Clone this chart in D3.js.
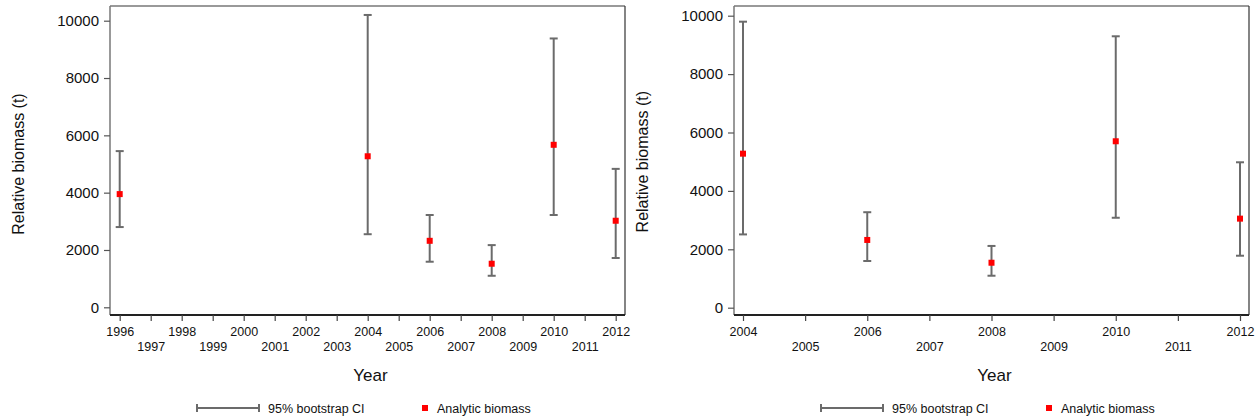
<!DOCTYPE html>
<html>
<head>
<meta charset="utf-8">
<script src="https://cdn.jsdelivr.net/npm/d3@7"></script>
<style>
  body { margin: 0; background: #fff; }
  svg { font-family: "Liberation Sans", Arial, sans-serif; }
</style>
</head>
<body>
<div id="chart"></div>
<script>
// left panel: full time series
const yearsA = [1996, 2004, 2006, 2008, 2010, 2012];
const meanA = [3950, 5270, 2320, 1520, 5670, 3020];
const lowA = [2800, 2550, 1590, 1100, 3220, 1720];
const highA = [5450, 10200, 3220, 2170, 9380, 4830];

// right panel: 2004 onwards
const yearsB = [2004, 2006, 2008, 2010, 2012];
const meanB = [5275, 2320, 1540, 5700, 3050];
const lowB = [2510, 1600, 1095, 3080, 1780];
const highB = [9795, 3270, 2115, 9295, 4980];

const yTicks = [0, 2000, 4000, 6000, 8000, 10000];

const width = 1259, height = 420;
const barCol = "#6b6b6b";

const svg = d3
  .select("#chart")
  .append("svg")
  .attr("width", width)
  .attr("height", height);

function panel(opts) {
  const { years, mean, low, high, yrFrom, yrTo, frame, xr, yr, labelX, legendX } = opts;
  const g = svg.append("g");

  const x = d3.scaleLinear().domain([yrFrom, yrTo]).range(xr);
  const y = d3.scaleLinear().domain([0, 10000]).range(yr);

  const data = years.map((yr, i) => ({ year: yr, mean: mean[i], low: low[i], high: high[i] }));

  // frame
  g.append("line")
    .attr("x1", frame.l).attr("x2", frame.r).attr("y1", frame.t).attr("y2", frame.t)
    .attr("stroke", "#777").attr("stroke-width", 1.5);
  g.append("line")
    .attr("x1", frame.l).attr("x2", frame.l).attr("y1", frame.t).attr("y2", frame.b)
    .attr("stroke", "#777").attr("stroke-width", 1.5);
  g.append("line")
    .attr("x1", frame.r).attr("x2", frame.r).attr("y1", frame.t).attr("y2", frame.b)
    .attr("stroke", "#333").attr("stroke-width", 1.2);
  g.append("line")
    .attr("x1", frame.l).attr("x2", frame.r).attr("y1", frame.b).attr("y2", frame.b)
    .attr("stroke", "#222").attr("stroke-width", 1.8);

  // y axis
  const yAxis = g.append("g")
    .attr("transform", `translate(${frame.l},0)`)
    .call(d3.axisLeft(y).tickValues(yTicks).tickSize(6).tickPadding(5).tickFormat(d3.format("d")));
  yAxis.select(".domain").remove();
  yAxis.selectAll("line").attr("stroke", "#555").attr("stroke-width", 1.2);
  yAxis.selectAll("text").attr("font-size", "15px").attr("fill", "#111")
    .attr("font-family", "Liberation Sans, Arial, sans-serif");

  // x axis, labels staggered on two rows
  const xYears = d3.range(yrFrom, yrTo + 1);
  const xAxis = g.append("g")
    .attr("transform", `translate(0,${frame.b})`)
    .call(d3.axisBottom(x).tickValues(xYears).tickSize(6).tickFormat(d3.format("d")));
  xAxis.select(".domain").remove();
  xAxis.selectAll("line").attr("stroke", "#444").attr("stroke-width", 1.2);
  xAxis.selectAll("text")
    .attr("font-size", "12.5px").attr("fill", "#111")
    .attr("font-family", "Liberation Sans, Arial, sans-serif")
    .attr("y", (d) => ((d - yrFrom) % 2 === 0 ? 12 : 27))
    .attr("dy", "0.71em");

  // axis titles
  g.append("text")
    .attr("transform", `translate(${labelX},${(yr[0] + yr[1]) / 2}) rotate(-90)`)
    .attr("text-anchor", "middle")
    .attr("font-size", "16px").attr("fill", "#111")
    .text("Relative biomass (t)");
  g.append("text")
    .attr("x", (frame.l + frame.r) / 2 + 3).attr("y", 381)
    .attr("text-anchor", "middle")
    .attr("font-size", "17px").attr("fill", "#111")
    .text("Year");

  // error bars
  const bars = g.selectAll(".ci").data(data).enter().append("g").attr("class", "ci")
    .attr("stroke", barCol).attr("stroke-width", 2);
  bars.append("line")
    .attr("x1", (d) => x(d.year)).attr("x2", (d) => x(d.year))
    .attr("y1", (d) => y(d.low)).attr("y2", (d) => y(d.high));
  bars.append("line")
    .attr("x1", (d) => x(d.year) - 4).attr("x2", (d) => x(d.year) + 4)
    .attr("y1", (d) => y(d.high)).attr("y2", (d) => y(d.high));
  bars.append("line")
    .attr("x1", (d) => x(d.year) - 4).attr("x2", (d) => x(d.year) + 4)
    .attr("y1", (d) => y(d.low)).attr("y2", (d) => y(d.low));

  // points
  g.selectAll(".pt").data(data).enter().append("rect")
    .attr("class", "pt")
    .attr("x", (d) => x(d.year) - 3).attr("y", (d) => y(d.mean) - 3)
    .attr("width", 6).attr("height", 6)
    .attr("fill", "#f00");

  // legend
  const lg = g.append("g").attr("transform", `translate(${legendX},408)`);
  lg.append("line").attr("x1", 0).attr("x2", 62).attr("y1", 0).attr("y2", 0)
    .attr("stroke", barCol).attr("stroke-width", 2);
  lg.append("line").attr("x1", 0).attr("x2", 0).attr("y1", -4).attr("y2", 4)
    .attr("stroke", barCol).attr("stroke-width", 2);
  lg.append("line").attr("x1", 62).attr("x2", 62).attr("y1", -4).attr("y2", 4)
    .attr("stroke", barCol).attr("stroke-width", 2);
  lg.append("text").attr("x", 71).attr("y", 4.5)
    .attr("font-size", "12.5px").attr("fill", "#111")
    .text("95% bootstrap CI");
  lg.append("rect").attr("x", 225).attr("y", -3).attr("width", 6).attr("height", 6)
    .attr("fill", "#f00");
  lg.append("text").attr("x", 240).attr("y", 4.5)
    .attr("font-size", "12.5px").attr("fill", "#111")
    .text("Analytic biomass");
}

panel({
  years: yearsA, mean: meanA, low: lowA, high: highA,
  yrFrom: 1996, yrTo: 2012,
  frame: { l: 110, r: 625, t: 6, b: 315 },
  xr: [119.7, 615.7], yr: [307.3, 20.7],
  labelX: 24, legendX: 197
});

panel({
  years: yearsB, mean: meanB, low: lowB, high: highB,
  yrFrom: 2004, yrTo: 2012,
  frame: { l: 734, r: 1249, t: 6, b: 315 },
  xr: [743, 1240], yr: [307.7, 15.7],
  labelX: 648, legendX: 821
});
</script>
</body>
</html>
